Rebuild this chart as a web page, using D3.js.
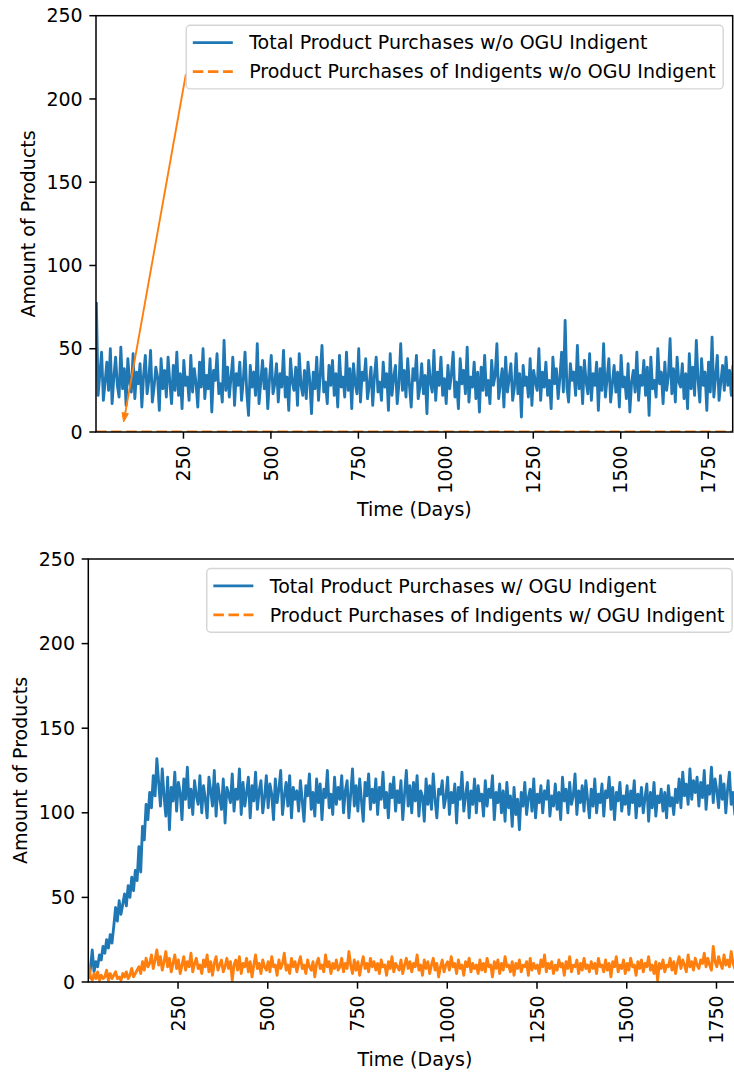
<!DOCTYPE html>
<html>
<head>
<meta charset="utf-8">
<script src="https://cdn.jsdelivr.net/npm/d3@7"></script>
<style>
  body { margin: 0; background: #fff; }
  svg text { font-family: "DejaVu Sans", sans-serif; fill: #000; }
</style>
</head>
<body>
<script>
//==========================================================================//
//  DATA (one value every 5 days starting at day 1)
//==========================================================================//
var firstDay = 1, dayStep = 5;

// top panel: w/o OGU Indigent
var totalWo = [
  78, 22, 35, 48, 19, 30, 42, 25, 50, 17, 33, 45, 28, 21, 51, 26, 38, 16, 44, 30,
  24, 47, 20, 36, 29, 41, 15, 34, 46, 23, 31, 49, 18, 27, 39, 33, 13, 44, 26, 37,
  21, 45, 30, 17, 40, 25, 48, 22, 35, 14, 43, 28, 33, 19, 46, 24, 38, 29, 15, 42,
  27, 50, 20, 34, 26, 44, 12, 37, 31, 47, 23, 29, 18, 55, 25, 39, 21, 33, 45, 16,
  35, 28, 42, 19, 31, 48, 24, 10, 40, 27, 36, 22, 53, 17, 30, 43, 26, 38, 14, 32,
  46, 23, 29, 41, 18, 35, 27, 49, 21, 33, 13, 44, 30, 25, 39, 16, 47, 28, 22, 37,
  20, 42, 31, 11, 36, 26, 45, 19, 34, 52, 24, 30, 17, 40, 28, 43, 22, 35, 15, 46,
  27, 33, 21, 48, 25, 38, 14, 41, 29, 23, 50, 18, 36, 31, 44, 20, 28, 39, 16, 34,
  45, 24, 30, 19, 42, 27, 35, 13, 47, 22, 33, 40, 17, 29, 53, 25, 37, 21, 44, 28,
  15, 38, 31, 46, 20, 27, 41, 23, 34, 11, 43, 30, 24, 49, 19, 36, 28, 45, 22, 32,
  17, 40, 26, 35, 48, 21, 30, 14, 44, 29, 37, 23, 51, 18, 33, 27, 42, 20, 36, 12,
  39, 25, 46, 22, 31, 17, 43, 28, 34, 53, 20, 29, 38, 15, 45, 24, 32, 41, 19, 27,
  47, 23, 35,  9, 40, 28, 33, 21, 44, 16, 37, 30, 25, 50, 19, 36, 27, 42, 22, 31,
  14, 45, 29, 38, 20, 33, 48, 24, 67, 27, 18, 41, 31, 36, 22, 52, 26, 39, 17, 43,
  30, 23, 47, 19, 35, 28, 42, 13, 38, 25, 53, 21, 32, 44, 18, 29, 40, 24, 36, 15,
  46, 27, 33, 20, 41, 12, 30, 37, 24, 48, 19, 34, 28, 43, 22, 39, 10, 45, 26, 31,
  21, 50, 29, 36, 17, 42, 25, 33, 56, 23, 38, 18, 45, 30, 27, 41, 20, 35, 14, 47,
  26, 39, 22, 55, 31, 18, 44, 28, 36, 13, 42, 24, 57, 21, 33, 46, 19, 30, 40, 25,
  45, 28, 37, 22, 40
];
var indigentWoDays = [0, 1820];
var indigentWo = [0, 0];

// bottom panel: w/ OGU Indigent
var totalW = [
    2,   8,  19,   6,  12,   9,  16,  13,  21,  17,  25,  20,  28,  23,  33,  44,  36,  48,  40,  46,
   52,  45,  57,  50,  62,  54,  66,  60,  80,  65,  92,  84, 105,  96, 112, 103, 122, 110, 132, 118,
  104, 126, 110,  98, 121,  90, 115, 107, 124, 101, 118, 112,  96, 120, 108, 127, 103, 114,  99, 119,
  110, 105, 122, 100, 116, 108,  97, 121, 113, 104, 125,  98, 117, 109, 102, 120,  94, 115, 111, 106,
  123, 101, 114, 108, 126,  99, 118, 104, 112, 121,  97, 116, 107, 124, 102, 113, 119, 100, 109, 122,
  103, 117, 111,  96, 120, 106, 114, 125,  99, 110, 118, 104, 122,  97, 115, 108, 113, 101, 119, 107,
   95, 116, 110, 123, 102, 112,  98, 120, 106, 117,  96, 114, 109, 125, 103, 111,  99, 121, 105, 115,
  108, 122, 100, 113, 119,  97, 111, 126, 104, 116, 101, 120, 107,  95, 118, 110, 123, 102, 114, 106,
  120,  99, 115, 108, 124, 103, 112,  97, 117, 109, 121, 101, 113, 106, 119,  96, 111, 125, 104, 116,
  100, 118, 107, 122,  98, 113, 110,  95, 120, 105, 116, 102, 123, 108,  97, 114, 111, 119, 103, 109,
  121,  99, 112, 106, 117,  94, 115, 108, 124, 101, 110, 118,  97, 113, 105, 120, 100, 116, 107, 111,
   98, 119, 104, 114, 109, 122,  96, 112, 106, 117, 100, 113,  95, 118, 103, 110,  92, 115,  99, 108,
   90, 112, 104, 118,  99, 109, 114, 101, 120,  97, 111, 106, 116, 100, 113, 108, 119,  98, 110, 104,
  117, 102, 112,  96, 121, 107, 114, 100, 118, 105, 110, 123,  99, 113, 106, 116, 101, 119, 108,  97,
  114, 104, 120, 100, 111, 106, 117,  98, 113, 109, 121, 102, 115,  96, 112, 107, 118, 101, 110, 105,
  116,  99, 113, 106, 119,  97, 111, 104, 115, 100, 109, 117,  95, 112, 103, 118,  98, 110, 106, 114,
  101, 112,  97, 116, 104, 109,  99, 114, 106, 120, 103, 124, 110, 117, 105, 126, 108, 119, 112, 121,
  104, 118, 109, 125, 102, 116, 111, 127, 106, 120, 113, 103, 122, 108, 117, 100, 114, 124, 105, 112,
   99, 116, 108, 122, 130
];
var indigentW = [
  10,  3,  1,  5,  2,  6,  1,  4,  2,  3,  7,  1,  5,  2,  4,  6,  2,  3,  1,  5,
   3,  6,  2,  4,  8,  3,  5,  7,  9,  5, 12,  7, 14,  9, 11, 16,  8, 13, 19, 10,
  15,  7, 12, 18,  9, 14,  6, 11, 16,  8, 13,  5, 10, 15,  7, 12,  9, 17,  6, 11,
  14,  8, 10,  5, 13,  9, 16,  6, 12,  4, 11, 15,  7, 10, 13,  6,  9, 14,  8, 12,
   1, 10, 13,  7, 15,  5, 11,  9, 14,  6, 12,  3, 10, 16,  8, 11,  5, 13,  9,  7,
  12,  6, 15,  9, 10,  4, 13,  8, 11, 17,  7, 10,  5, 14,  9, 12,  6, 11, 15,  8,
  10,  5, 13,  9,  7, 12,  3, 11, 14,  8, 10,  6, 16,  9, 12,  5, 11,  8, 13,  7,
   9, 14,  6, 11,  8, 18, 10,  5, 13,  7, 12,  4, 10, 15,  8, 11,  6, 14,  9, 12,
   7, 11,  5, 13,  9, 10,  4, 12,  8, 15,  6, 11,  9,  7, 13,  5, 10, 14,  8, 12,
   6, 11,  9, 16,  7, 10,  4, 13,  8, 12,  5, 10, 14,  7, 11,  3,  9, 13,  6, 10,
  12,  7, 15,  9, 11,  5, 13,  8, 10,  4, 12,  9, 14,  6, 11,  8, 10,  5, 13,  7,
  11,  6, 14,  9, 10,  3, 12,  8, 13,  5, 11,  7, 15,  9, 10,  6, 12,  4, 11,  8,
  13,  6, 10,  9, 12,  4, 14,  7, 11,  8, 10,  5, 13,  9, 16,  6, 11,  8, 12,  5,
  10,  7, 13,  9, 11,  4, 12,  8, 15,  6, 10,  9, 13,  5, 11,  7, 14,  8, 10,  6,
  12,  8, 11,  5, 14,  9, 10,  6, 13,  7, 11,  3, 12,  9, 15,  6, 10,  8, 13,  5,
  11,  7, 14,  9, 10,  4, 12,  8, 13,  6, 11,  9, 15,  7, 10,  5, 12,  1, 11,  8,
  13,  6, 10,  9, 14,  7, 12,  5, 11, 15,  8, 13, 10,  6, 16,  9, 12,  7, 14, 10,
   8, 13, 11, 17,  9, 14, 10,  7, 21, 12,  9, 15, 11,  8, 16, 10, 13,  9, 18, 11,
   8, 14, 10, 16, 12
];

var xDomain = [0, 1820];
var yDomain = [0, 250];
var xTicks = [250, 500, 750, 1000, 1250, 1500, 1750];
var yTicks = [0, 50, 100, 150, 200, 250];

var labelsWo = ["Total Product Purchases w/o OGU Indigent", "Product Purchases of Indigents w/o OGU Indigent"];
var labelsW = ["Total Product Purchases w/ OGU Indigent", "Product Purchases of Indigents w/ OGU Indigent"];

// stray annotation arrow in the top panel (text end -> arrow tip), data coords
var arrowFrom = [257, 215];
var arrowTo = [79, 6];

//==========================================================================//
//  SETUP
//==========================================================================//
var W = 734, H = 1079, fs = 19;
var blue = "#1f77b4", orange = "#ff7f0e";
var lw = 2.85, tickLen = 6.65, tickPad = 6.65;
var dashed = (3.7 * lw) + "," + (1.6 * lw);

var svg = d3.select("body").append("svg")
    .attr("width", W)
    .attr("height", H);

function days(arr) {
    return arr.map(function(v, i) { return firstDay + i * dayStep; });
}

drawPanel({
    id: "wo", left: 96, right: 732.7, top: 15.7, bottom: 432,
    series: [
        { x: days(totalWo), y: totalWo, color: blue, dash: null, legendDash: null },
        { x: indigentWoDays, y: indigentWo, color: orange, dash: dashed, legendDash: dashed }
    ],
    labels: labelsWo,
    arrow: true
});

// the orange w/ series is dashed too, but its dashes fold into a solid band
drawPanel({
    id: "w", left: 88.3, right: 741.6, top: 559, bottom: 982,
    series: [
        { x: days(totalW), y: totalW, color: blue, dash: null, legendDash: null },
        { x: days(indigentW), y: indigentW, color: orange, dash: null, legendDash: dashed }
    ],
    labels: labelsW,
    arrow: false
});

//==========================================================================//
//  FUNCTIONS
//==========================================================================//
function drawPanel(cfg) {
    var x = d3.scaleLinear().domain(xDomain).range([cfg.left, cfg.right]);
    var y = d3.scaleLinear().domain(yDomain).range([cfg.bottom, cfg.top]);
    var g = svg.append("g");

    // clip lines to the axes box
    svg.append("clipPath").attr("id", "clip-" + cfg.id)
        .append("rect")
        .attr("x", cfg.left).attr("y", cfg.top)
        .attr("width", cfg.right - cfg.left).attr("height", cfg.bottom - cfg.top);

    var line = d3.line()
        .x(function(d) { return x(d[0]); })
        .y(function(d) { return y(d[1]); });

    cfg.series.forEach(function(s) {
        var pts = s.x.map(function(d, i) { return [d, s.y[i]]; });
        g.append("path")
            .attr("clip-path", "url(#clip-" + cfg.id + ")")
            .attr("d", line(pts))
            .attr("fill", "none")
            .attr("stroke", s.color)
            .attr("stroke-width", lw)
            .attr("stroke-linejoin", "round")
            .attr("stroke-dasharray", s.dash);
    });

    // spines
    g.append("rect")
        .attr("x", cfg.left).attr("y", cfg.top)
        .attr("width", cfg.right - cfg.left).attr("height", cfg.bottom - cfg.top)
        .attr("fill", "none").attr("stroke", "#000").attr("stroke-width", 1.5);

    // x ticks
    xTicks.forEach(function(t) {
        g.append("line")
            .attr("x1", x(t)).attr("x2", x(t))
            .attr("y1", cfg.bottom).attr("y2", cfg.bottom + tickLen)
            .attr("stroke", "#000").attr("stroke-width", 1.5);
        g.append("text")
            .attr("transform", "translate(" + x(t) + "," + (cfg.bottom + tickLen + tickPad) + ") rotate(-90)")
            .attr("text-anchor", "end")
            .attr("dy", "0.35em")
            .attr("font-size", fs)
            .text(t);
    });

    // y ticks
    yTicks.forEach(function(t) {
        g.append("line")
            .attr("x1", cfg.left - tickLen).attr("x2", cfg.left)
            .attr("y1", y(t)).attr("y2", y(t))
            .attr("stroke", "#000").attr("stroke-width", 1.5);
        g.append("text")
            .attr("x", cfg.left - tickLen - tickPad)
            .attr("y", y(t))
            .attr("dy", "0.35em")
            .attr("text-anchor", "end")
            .attr("font-size", fs)
            .text(t);
    });

    // axis labels
    g.append("text")
        .attr("x", (cfg.left + cfg.right) / 2)
        .attr("y", cfg.bottom + 84)
        .attr("text-anchor", "middle")
        .attr("font-size", fs)
        .text("Time (Days)");
    g.append("text")
        .attr("transform", "translate(" + (cfg.left - 61) + "," + ((cfg.top + cfg.bottom) / 2) + ") rotate(-90)")
        .attr("text-anchor", "middle")
        .attr("font-size", fs)
        .text("Amount of Products");

    // annotation arrow
    if (cfg.arrow) {
        var x0 = x(arrowFrom[0]), y0 = y(arrowFrom[1]);
        var x1 = x(arrowTo[0]), y1 = y(arrowTo[1]);
        var ang = Math.atan2(y1 - y0, x1 - x0);
        var hl = 9, hw = 3.2;
        var bx = x1 - hl * Math.cos(ang), by = y1 - hl * Math.sin(ang);
        g.append("line")
            .attr("x1", x0).attr("y1", y0).attr("x2", bx).attr("y2", by)
            .attr("stroke", orange).attr("stroke-width", 1.9);
        g.append("path")
            .attr("d", "M" + x1 + "," + y1 +
                "L" + (bx + hw * Math.sin(ang)) + "," + (by - hw * Math.cos(ang)) +
                "L" + (bx - hw * Math.sin(ang)) + "," + (by + hw * Math.cos(ang)) + "Z")
            .attr("fill", orange).attr("stroke", orange).attr("stroke-width", 1);
    }

    // legend
    var lg = g.append("g");
    var box = lg.append("rect");
    var texts = cfg.labels.map(function(l) {
        return lg.append("text").attr("font-size", fs).text(l);
    });
    var maxW = d3.max(texts, function(t) { return t.node().getComputedTextLength(); });
    var pad = 7.6, handle = 40, textOff = 63, rowH = 19.5, gap = 9.5;
    var bw = textOff + maxW + pad;
    var bh = 2 * pad + 2 * rowH + gap;
    var bx0 = cfg.right - 9.5 - bw, by0 = cfg.top + 9.5;
    box.attr("x", bx0).attr("y", by0).attr("width", bw).attr("height", bh)
        .attr("rx", 4).attr("fill", "#fff").attr("fill-opacity", 0.8)
        .attr("stroke", "#d5d5d5").attr("stroke-width", 1.4);
    texts.forEach(function(t, i) {
        var cy = by0 + pad + rowH / 2 + i * (rowH + gap);
        t.attr("x", bx0 + textOff).attr("y", cy).attr("dy", "0.35em");
        lg.append("line")
            .attr("x1", bx0 + pad - 1).attr("x2", bx0 + pad - 1 + handle)
            .attr("y1", cy).attr("y2", cy)
            .attr("stroke", cfg.series[i].color)
            .attr("stroke-width", lw)
            .attr("stroke-dasharray", cfg.series[i].legendDash);
    });
}
</script>
</body>
</html>
